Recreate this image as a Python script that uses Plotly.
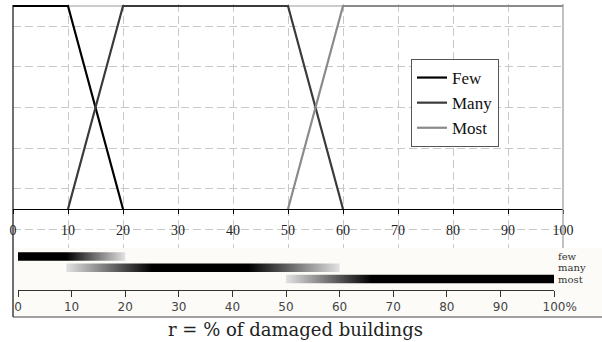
import plotly.graph_objects as go

# ---- data ----
series_names = ["Few", "Many", "Most"]
few_x = [0, 10, 20]
few_y = [1, 1, 0]
many_x = [10, 20, 50, 60]
many_y = [0, 1, 1, 0]
most_x = [50, 60, 100]
most_y = [0, 1, 1]

x_ticks = [0, 10, 20, 30, 40, 50, 60, 70, 80, 90, 100]
x_tick_labels = ["0", "10", "20", "30", "40", "50", "60", "70", "80", "90", "100"]
bottom_tick_labels = ["0", "10", "20", "30", "40", "50", "60", "70", "80", "90",
                      "\u00a0\u00a0\u00a0100%"]

bar_labels = ["few", "many", "most"]
bar_start = [0, 9, 50]
bar_full_from = [0, 25, 66]
bar_full_to = [9, 43, 100]
bar_end = [20, 60, 100]

# ---- styling ----
W, H = 602, 342
def px_x(p): return p / W
def px_y(p): return 1 - p / H

line_colors = ["#000000", "#3a3a3a", "#8a8a8a"]
LIGHT = "#e2e2e2"

fig = go.Figure()

for name, xs, ys, col in zip(series_names, [few_x, many_x, most_x],
                             [few_y, many_y, most_y], line_colors):
    fig.add_trace(go.Scatter(x=xs, y=ys, mode="lines", name=name,
                             line=dict(color=col, width=2.2),
                             xaxis="x", yaxis="y"))

half = 0.38
for i, lab in enumerate(bar_labels):
    s, f0, f1, e = bar_start[i], bar_full_from[i], bar_full_to[i], bar_end[i]
    span = e - s
    stops = []
    def add(pos, c):
        if stops and abs(stops[-1][0] - pos) < 1e-9:
            return
        stops.append([pos, c])
    add(0.0, "#000000" if f0 <= s else LIGHT)
    add((f0 - s) / span, "#000000")
    add((f1 - s) / span, "#000000")
    add(1.0, "#000000" if f1 >= e else LIGHT)
    fig.add_trace(go.Scatter(
        x=[s, e, e, s, s], y=[i - half, i - half, i + half, i + half, i - half],
        mode="lines", fill="toself", line=dict(width=0, color="rgba(0,0,0,0)"),
        fillgradient=dict(type="horizontal", start=s, stop=e, colorscale=stops),
        showlegend=False, hoverinfo="skip", xaxis="x2", yaxis="y2"))

grid_col = "#c8c8c8"
serif = "Liberation Serif"

fig.update_layout(
    width=W, height=H, margin=dict(l=0, r=0, t=0, b=0, pad=0, autoexpand=False),
    paper_bgcolor="white", plot_bgcolor="rgba(0,0,0,0)",
    showlegend=True,
    xaxis=dict(domain=[px_x(13), px_x(563)], range=[0, 100], anchor="free",
               position=px_y(209), tickvals=x_ticks, ticktext=x_tick_labels,
               ticks="outside", ticklen=4, tickcolor="black", showline=False,
               showgrid=True, gridcolor=grid_col, griddash="8px,4px", gridwidth=1,
               zeroline=False, ticklabelstandoff=4, automargin=False,
               tickfont=dict(family=serif, size=14, color="#222")),
    yaxis=dict(domain=[px_y(248), px_y(4)], range=[-39 / 203, 1 + 2 / 203],
               tickvals=[-0.1, 0.1, 0.3, 0.5, 0.7, 0.9], showticklabels=False,
               ticks="", showgrid=True, gridcolor=grid_col, griddash="8px,4px",
               gridwidth=1, zeroline=True, zerolinecolor="black", zerolinewidth=1,
               showline=False, automargin=False),
    xaxis2=dict(domain=[px_x(18), px_x(554)], range=[0, 100], anchor="y2",
                showline=True, linecolor="#333", linewidth=1, ticks="outside",
                ticklen=6, tickcolor="#333", tickvals=x_ticks,
                ticktext=bottom_tick_labels, showgrid=False, zeroline=False,
                automargin=False,
                tickfont=dict(family="DejaVu Sans", size=12, color="#444")),
    yaxis2=dict(domain=[px_y(290), px_y(248)], range=[2 + 11 / 11.25, -8.5 / 11.25],
                anchor="x2", side="right", tickvals=[0, 1, 2], ticktext=bar_labels,
                ticks="", showgrid=False, zeroline=False, showline=False,
                ticklabelstandoff=3, automargin=False,
                tickfont=dict(family="DejaVu Serif", size=10, color="#333")),
    legend=dict(x=px_x(411), y=px_y(59), xanchor="left", yanchor="top",
                bordercolor="#555", borderwidth=1, bgcolor="white",
                font=dict(family=serif, size=17, color="#111"),
                itemwidth=30, tracegroupgap=0),
    shapes=[
        dict(type="rect", xref="paper", yref="paper", x0=px_x(13), x1=1.0,
             y0=px_y(317), y1=px_y(248), fillcolor="#fcfbf8",
             line=dict(width=0), layer="below"),
        dict(type="line", xref="x domain", yref="y", x0=0, x1=1, y0=1, y1=1,
             line=dict(color="#999", width=1), layer="below"),
        dict(type="line", xref="x domain", yref="y domain", x0=1, x1=1, y0=0, y1=1,
             line=dict(color="#999", width=1.2), layer="above"),
        dict(type="line", xref="paper", yref="paper", x0=px_x(13), x1=px_x(13),
             y0=px_y(317), y1=px_y(5), line=dict(color="#111", width=1.2)),
        dict(type="line", xref="paper", yref="paper", x0=px_x(13), x1=1.0,
             y0=px_y(317), y1=px_y(317), line=dict(color="#444", width=1.2)),
    ],
    annotations=[
        dict(text="r = % of damaged buildings", xref="paper", yref="paper",
             x=px_x(295), y=px_y(329), showarrow=False, xanchor="center",
             yanchor="middle", font=dict(family="DejaVu Serif", size=18, color="#222")),
    ],
)

fig.write_html("out.html")
